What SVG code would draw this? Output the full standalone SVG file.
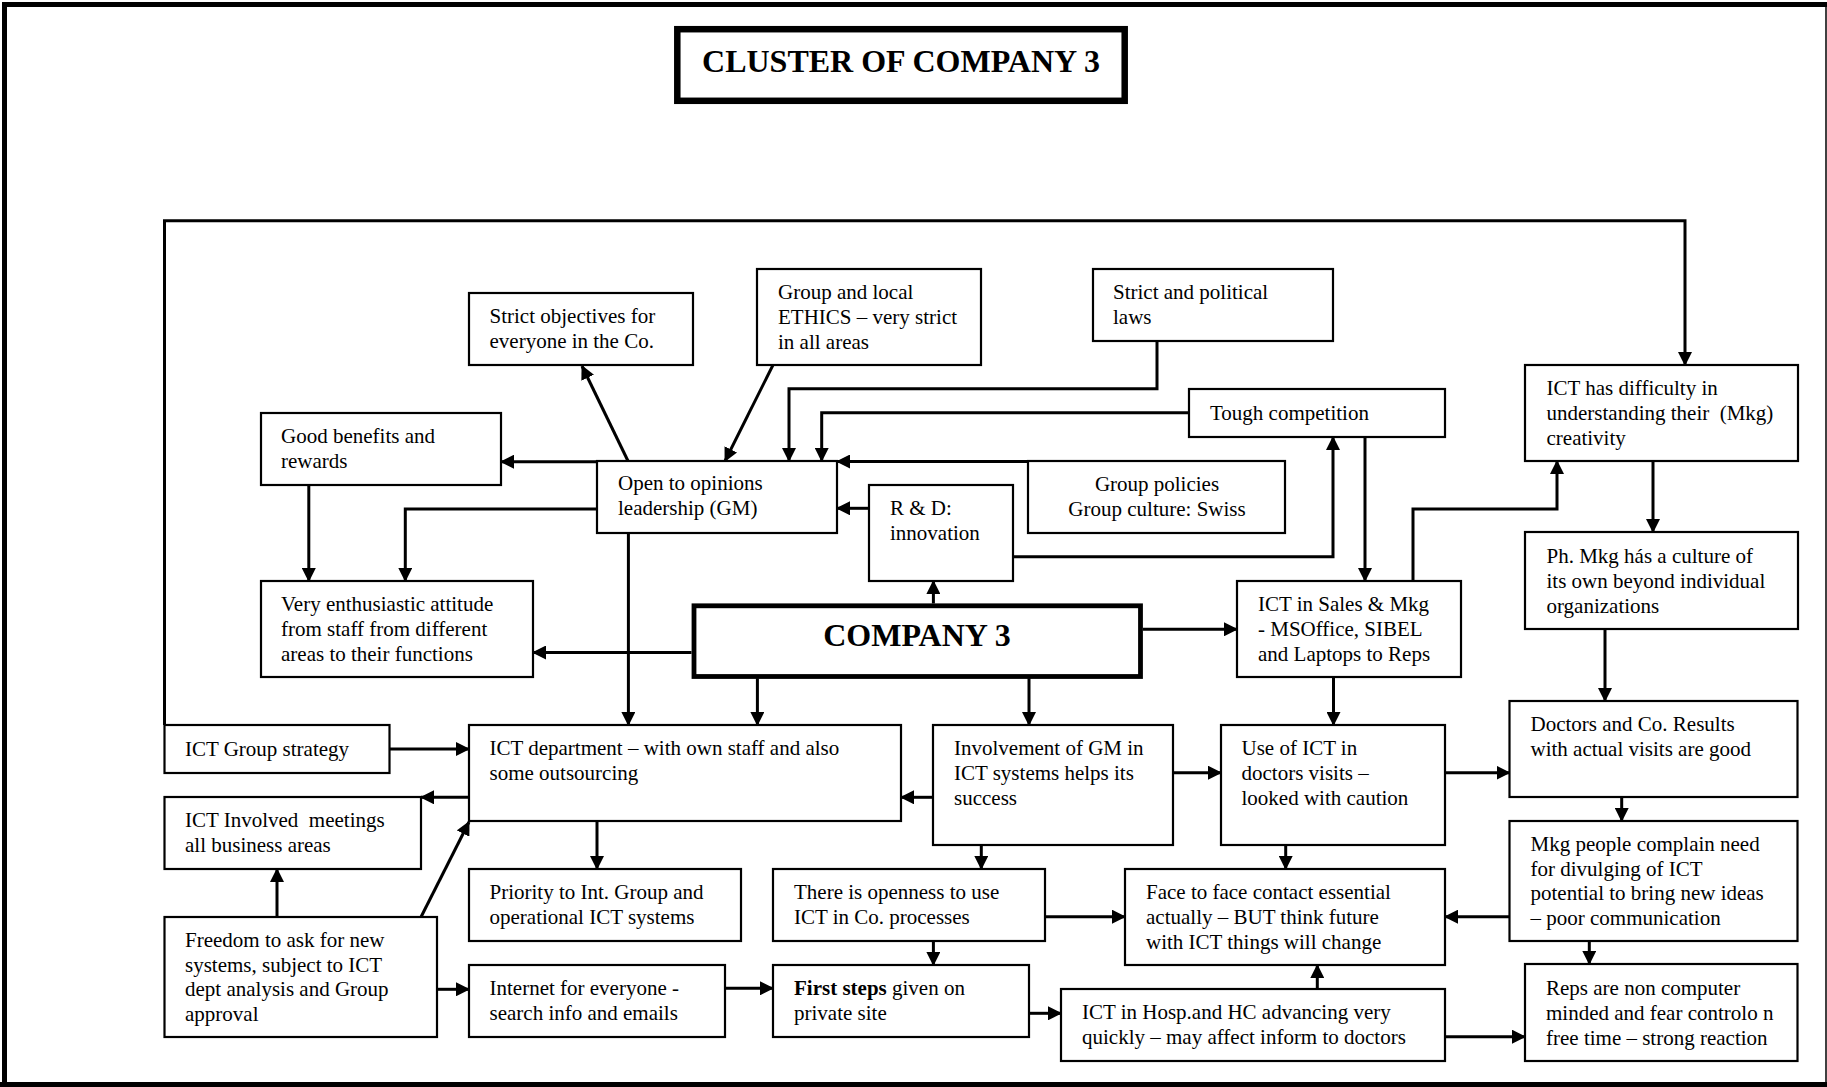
<svg xmlns="http://www.w3.org/2000/svg" width="1827" height="1087" viewBox="0 0 1827 1087">
<style>
.b{fill:#fff;stroke:#000;stroke-width:2.2}
.t{font-family:"Liberation Serif","Times New Roman",serif;font-size:21px;fill:#000}
.h{font-family:"Liberation Serif","Times New Roman",serif;font-size:32px;font-weight:bold;fill:#000}
.c{fill:none;stroke:#000;stroke-width:3}
.a{marker-end:url(#ah)}
</style>
<defs>
<marker id="ah" markerUnits="userSpaceOnUse" viewBox="0 0 14 14" markerWidth="14" markerHeight="14" refX="13" refY="7" orient="auto">
<path d="M0,0 L14,7 L0,14 z" fill="#000"/>
</marker>
</defs>
<rect width="1827" height="1087" fill="#fff"/>
<g id="frame">
<line x1="2" y1="4.5" x2="1827" y2="4.5" stroke="#000" stroke-width="5"/>
<line x1="4.5" y1="2" x2="4.5" y2="1087" stroke="#000" stroke-width="5"/>
<line x1="0" y1="1084.5" x2="1827" y2="1084.5" stroke="#000" stroke-width="5"/>
<line x1="1826" y1="2" x2="1826" y2="1087" stroke="#000" stroke-width="1.5"/>
</g>
<g id="title">
<rect x="677.3" y="29.2" width="447.4" height="71.6" fill="#fff" stroke="#000" stroke-width="6.5"/>
<text class="h" x="901" y="72" text-anchor="middle">CLUSTER OF COMPANY 3</text>
</g>
<g id="connectors">
<path class="c a" d="M164.5,725 V220.7 H1685 V365"/>
<path class="c a" d="M628,461 L582,366"/>
<path class="c a" d="M773,365 L725,461"/>
<path class="c a" d="M1157,341 V388.7 H789 V461"/>
<path class="c a" d="M1189,412.7 H821.7 V461"/>
<path class="c a" d="M1028,461.5 H837"/>
<path class="c a" d="M869,508.3 H837"/>
<path class="c a" d="M597,461.7 H501"/>
<path class="c a" d="M597,509 H405.3 V581"/>
<path class="c a" d="M308.8,485 V581"/>
<path class="c a" d="M628.4,533 V725"/>
<path class="c a" d="M933.4,603.5 V581"/>
<path class="c a" d="M1013,556.7 H1333 V437"/>
<path class="c a" d="M1365,437 V581"/>
<path class="c a" d="M1413,581 V509 H1557 V461"/>
<path class="c a" d="M1653,461 V532"/>
<path class="c a" d="M1605,629 V701"/>
<path class="c a" d="M1143,629.3 H1237"/>
<path class="c a" d="M691.5,652.5 H533"/>
<path class="c a" d="M757.4,678.3 V725"/>
<path class="c a" d="M1029,678.3 V725"/>
<path class="c a" d="M1333.5,677 V725"/>
<path class="c a" d="M389.2,749 H469"/>
<path class="c a" d="M469,797.3 H421"/>
<path class="c a" d="M933,797.3 H901"/>
<path class="c a" d="M1173.4,772.7 H1221"/>
<path class="c a" d="M1445,772.7 H1509.5"/>
<path class="c a" d="M1621.7,797 V821"/>
<path class="c a" d="M597,821 V869"/>
<path class="c a" d="M981.3,845 V869"/>
<path class="c a" d="M1285.7,845 V869"/>
<path class="c a" d="M277,917 V869"/>
<path class="c a" d="M421,917 L469,822"/>
<path class="c a" d="M1045,916.7 H1125"/>
<path class="c a" d="M1509.5,916.7 H1445"/>
<path class="c a" d="M1589.3,941 V964"/>
<path class="c a" d="M933.4,941 V965"/>
<path class="c a" d="M437,989.3 H469"/>
<path class="c a" d="M725,988.3 H773"/>
<path class="c a" d="M1029,1013.3 H1061"/>
<path class="c a" d="M1317.3,989 V965"/>
<path class="c a" d="M1445,1036.7 H1525"/>
</g>
<g id="strict_objectives"><rect class="b" x="469" y="293" width="224" height="72"/><text class="t" x="489.5" y="323">Strict objectives for</text><text class="t" x="489.5" y="348">everyone in the Co.</text></g>
<g id="ethics"><rect class="b" x="757" y="269" width="224" height="96"/><text class="t" x="778" y="299">Group and local</text><text class="t" x="778" y="324">ETHICS – very strict</text><text class="t" x="778" y="349">in all areas</text></g>
<g id="laws"><rect class="b" x="1093" y="269" width="240" height="72"/><text class="t" x="1113" y="299">Strict and political</text><text class="t" x="1113" y="324">laws</text></g>
<g id="good_benefits"><rect class="b" x="261" y="413" width="240" height="72"/><text class="t" x="281" y="443">Good benefits and</text><text class="t" x="281" y="468">rewards</text></g>
<g id="open_opinions"><rect class="b" x="597" y="461" width="240" height="72"/><text class="t" x="618" y="490">Open to opinions</text><text class="t" x="618" y="515">leadership (GM)</text></g>
<g id="tough_competition"><rect class="b" x="1189" y="389" width="256" height="48"/><text class="t" x="1210" y="420">Tough competition</text></g>
<g id="group_policies"><rect class="b" x="1028" y="461" width="257" height="72"/><text class="t" x="1157" y="491" text-anchor="middle">Group policies</text><text class="t" x="1157" y="516" text-anchor="middle">Group culture: Swiss</text></g>
<g id="rnd"><rect class="b" x="869" y="485" width="144" height="96"/><text class="t" x="890" y="515">R &amp; D:</text><text class="t" x="890" y="540">innovation</text></g>
<g id="ict_difficulty"><rect class="b" x="1525" y="365" width="273" height="96"/><text class="t" x="1546.5" y="395">ICT has difficulty in</text><text class="t" x="1546.5" y="420" xml:space="preserve">understanding their  (Mkg)</text><text class="t" x="1546.5" y="445">creativity</text></g>
<g id="very_enthusiastic"><rect class="b" x="261" y="581" width="272" height="96"/><text class="t" x="281" y="611">Very enthusiastic attitude</text><text class="t" x="281" y="636">from staff from different</text><text class="t" x="281" y="661">areas to their functions</text></g>
<g id="company3"><rect x="694" y="605.8" width="446.5" height="70.7" fill="#fff" stroke="#000" stroke-width="4.8"/><text class="h" x="917" y="646" text-anchor="middle">COMPANY 3</text></g>
<g id="ict_sales"><rect class="b" x="1237" y="581" width="224" height="96"/><text class="t" x="1258" y="611">ICT in Sales &amp; Mkg</text><text class="t" x="1258" y="636">- MSOffice, SIBEL</text><text class="t" x="1258" y="661">and Laptops to Reps</text></g>
<g id="ph_mkg"><rect class="b" x="1525" y="532" width="273" height="97"/><text class="t" x="1546.5" y="563">Ph. Mkg hás a culture of</text><text class="t" x="1546.5" y="588">its own beyond individual</text><text class="t" x="1546.5" y="613">organizations</text></g>
<g id="ict_group_strategy"><rect class="b" x="164.5" y="725" width="225" height="48"/><text class="t" x="185" y="756">ICT Group strategy</text></g>
<g id="ict_department"><rect class="b" x="469" y="725" width="432" height="96"/><text class="t" x="489.5" y="755">ICT department – with own staff and also</text><text class="t" x="489.5" y="780">some outsourcing</text></g>
<g id="involvement_gm"><rect class="b" x="933" y="725" width="240" height="120"/><text class="t" x="954" y="755">Involvement of GM in</text><text class="t" x="954" y="780">ICT systems helps its</text><text class="t" x="954" y="805">success</text></g>
<g id="use_ict"><rect class="b" x="1221" y="725" width="224" height="120"/><text class="t" x="1241.5" y="755">Use of ICT in</text><text class="t" x="1241.5" y="780">doctors visits –</text><text class="t" x="1241.5" y="805">looked with caution</text></g>
<g id="doctors_results"><rect class="b" x="1509.5" y="701" width="288" height="96"/><text class="t" x="1530.5" y="731">Doctors and Co. Results</text><text class="t" x="1530.5" y="756">with actual visits are good</text></g>
<g id="ict_involved"><rect class="b" x="164.5" y="797" width="256.5" height="72"/><text class="t" x="185" y="827" xml:space="preserve">ICT Involved  meetings</text><text class="t" x="185" y="852">all business areas</text></g>
<g id="priority"><rect class="b" x="469" y="869" width="272" height="72"/><text class="t" x="489.5" y="899">Priority to Int. Group and</text><text class="t" x="489.5" y="924">operational ICT systems</text></g>
<g id="openness"><rect class="b" x="773" y="869" width="272" height="72"/><text class="t" x="794" y="899">There is openness to use</text><text class="t" x="794" y="924">ICT in Co. processes</text></g>
<g id="face_to_face"><rect class="b" x="1125" y="869" width="320" height="96"/><text class="t" x="1146" y="899">Face to face contact essential</text><text class="t" x="1146" y="924">actually – BUT think future</text><text class="t" x="1146" y="949">with ICT things will change</text></g>
<g id="mkg_people"><rect class="b" x="1509.5" y="821" width="288" height="120"/><text class="t" x="1530.5" y="851">Mkg people complain need</text><text class="t" x="1530.5" y="876">for divulging of ICT</text><text class="t" x="1530.5" y="900">potential to bring new ideas</text><text class="t" x="1530.5" y="925">– poor communication</text></g>
<g id="freedom"><rect class="b" x="164.5" y="917" width="272.5" height="120"/><text class="t" x="185" y="947">Freedom to ask for new</text><text class="t" x="185" y="972">systems, subject to ICT</text><text class="t" x="185" y="996">dept analysis and Group</text><text class="t" x="185" y="1021">approval</text></g>
<g id="internet"><rect class="b" x="469" y="965" width="256" height="72"/><text class="t" x="489.5" y="995">Internet for everyone -</text><text class="t" x="489.5" y="1020">search info and emails</text></g>
<g id="first_steps"><rect class="b" x="773" y="965" width="256" height="72"/><text class="t" x="794" y="995"><tspan font-weight="bold">First steps</tspan> given on</text><text class="t" x="794" y="1020">private site</text></g>
<g id="ict_hosp"><rect class="b" x="1061" y="989" width="384" height="72"/><text class="t" x="1082" y="1019">ICT in Hosp.and HC advancing very</text><text class="t" x="1082" y="1044">quickly – may affect inform to doctors</text></g>
<g id="reps"><rect class="b" x="1525" y="964" width="272.5" height="97"/><text class="t" x="1546" y="995">Reps are non computer</text><text class="t" x="1546" y="1020">minded and fear controlo n</text><text class="t" x="1546" y="1045">free time – strong reaction</text></g>
</svg>
